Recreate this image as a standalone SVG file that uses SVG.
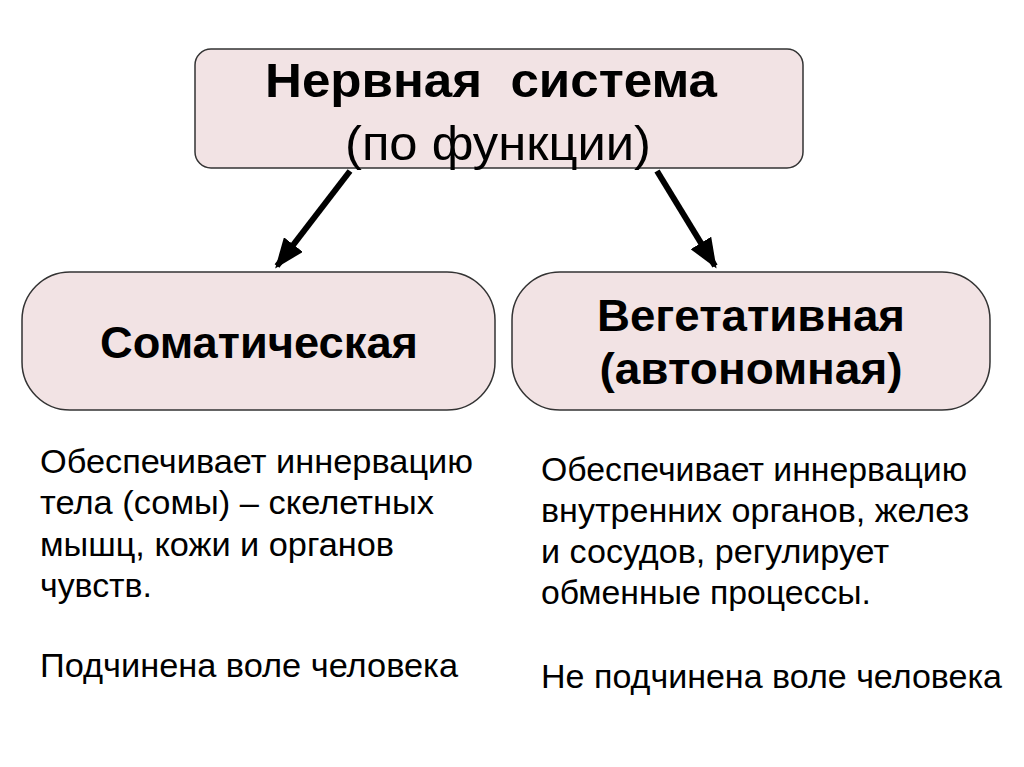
<svg xmlns="http://www.w3.org/2000/svg" width="1024" height="767" viewBox="0 0 1024 767">
<style>
.box{fill:#f2e3e4;stroke:#333;stroke-width:1.5}
.t{font-family:"Liberation Sans",Arial,sans-serif;fill:#000}
.b{font-weight:bold}
.body{font-size:34px}
.conn{stroke:#000;stroke-width:6;fill:none}
</style>
<defs>
<marker id="ah" viewBox="0 0 10 8" refX="9" refY="4" markerWidth="5" markerHeight="4" orient="auto" markerUnits="strokeWidth">
<path d="M0,0 L10,4 L0,8 z" fill="#000"/>
</marker>
</defs>
<rect width="1024" height="767" fill="#fff"/>
<g id="connectors">
<line class="conn" x1="350" y1="171" x2="277" y2="266" marker-end="url(#ah)"/>
<line class="conn" x1="657" y1="171" x2="715" y2="266" marker-end="url(#ah)"/>
</g>
<g id="node-root">
<rect class="box" x="195" y="49" width="608" height="119" rx="16"/>
<text class="t b" x="491" y="97" font-size="48" text-anchor="middle" textLength="452" lengthAdjust="spacingAndGlyphs" xml:space="preserve" style="white-space:pre">Нервная  система</text>
<text class="t" x="498" y="160" font-size="48" text-anchor="middle" textLength="306" lengthAdjust="spacingAndGlyphs">(по функции)</text>
</g>
<g id="node-somatic">
<rect class="box" x="22" y="272" width="473" height="138" rx="48"/>
<text class="t b" x="259" y="358" font-size="44" text-anchor="middle" textLength="318" lengthAdjust="spacingAndGlyphs">Соматическая</text>
</g>
<g id="node-vegetative">
<rect class="box" x="512" y="272" width="478" height="138" rx="48"/>
<text class="t b" x="751" y="331" font-size="44" text-anchor="middle" textLength="308" lengthAdjust="spacingAndGlyphs">Вегетативная</text>
<text class="t b" x="751" y="384" font-size="44" text-anchor="middle" textLength="303" lengthAdjust="spacingAndGlyphs">(автономная)</text>
</g>
<g id="text-somatic" class="t body">
<text x="40" y="473" textLength="433" lengthAdjust="spacingAndGlyphs">Обеспечивает иннервацию</text>
<text x="40" y="514" textLength="394" lengthAdjust="spacingAndGlyphs">тела (сомы) – скелетных</text>
<text x="40" y="556" textLength="354" lengthAdjust="spacingAndGlyphs">мышц, кожи и органов</text>
<text x="40" y="597" textLength="112" lengthAdjust="spacingAndGlyphs">чувств.</text>
<text x="40" y="677" textLength="418" lengthAdjust="spacingAndGlyphs">Подчинена воле человека</text>
</g>
<g id="text-vegetative" class="t body">
<text x="541" y="481" textLength="426" lengthAdjust="spacingAndGlyphs">Обеспечивает иннервацию</text>
<text x="541" y="522" textLength="428" lengthAdjust="spacingAndGlyphs">внутренних органов, желез</text>
<text x="541" y="563" textLength="348" lengthAdjust="spacingAndGlyphs">и сосудов, регулирует</text>
<text x="541" y="604" textLength="330" lengthAdjust="spacingAndGlyphs">обменные процессы.</text>
<text x="541" y="688" textLength="461" lengthAdjust="spacingAndGlyphs">Не подчинена воле человека</text>
</g>
</svg>
